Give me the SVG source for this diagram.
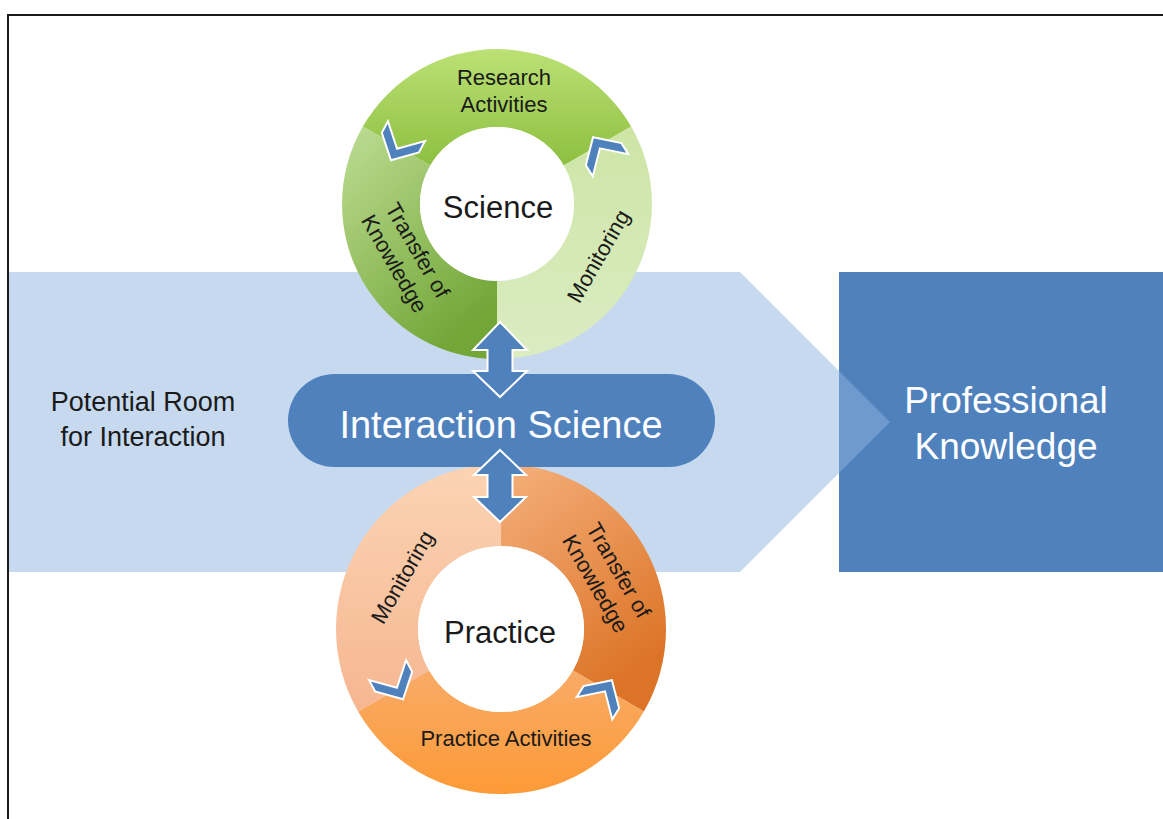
<svg xmlns="http://www.w3.org/2000/svg" xmlns:xlink="http://www.w3.org/1999/xlink" width="1163" height="819" viewBox="0 0 1163 819">
  <style>
    .lbl { font-family: "Liberation Sans", Arial, sans-serif; fill: #1a1a1a; }
    .wht { font-family: "Liberation Sans", Arial, sans-serif; fill: #ffffff; }
    .blue { fill: #4f81bd; stroke: #ffffff; stroke-width: 2; stroke-linejoin: miter; }
  </style>
  <defs>
    <linearGradient id="gSciTop" x1="0" y1="0" x2="0" y2="1">
      <stop offset="0" stop-color="#bce176"/>
      <stop offset="1" stop-color="#8dbf40"/>
    </linearGradient>
    <linearGradient id="gSciLeft" x1="0" y1="0" x2="0.6" y2="1">
      <stop offset="0" stop-color="#bedd94"/>
      <stop offset="1" stop-color="#72a637"/>
    </linearGradient>
    <linearGradient id="gSciRight" x1="0" y1="0" x2="0" y2="1">
      <stop offset="0" stop-color="#cde5a6"/>
      <stop offset="1" stop-color="#dbecc2"/>
    </linearGradient>
    <linearGradient id="gPraLeft" x1="0" y1="0" x2="0" y2="1">
      <stop offset="0" stop-color="#fbd4b4"/>
      <stop offset="1" stop-color="#f6b691"/>
    </linearGradient>
    <linearGradient id="gPraRight" x1="0" y1="0" x2="0.5" y2="1">
      <stop offset="0" stop-color="#f5b07c"/>
      <stop offset="1" stop-color="#dc7427"/>
    </linearGradient>
    <linearGradient id="gPraBot" x1="0" y1="0" x2="0" y2="1">
      <stop offset="0" stop-color="#f8ab67"/>
      <stop offset="1" stop-color="#fd9a36"/>
    </linearGradient>
    <path id="chev" d="M-18,-21 L-5,-21 L15,0 L-5,21 L-18,21 L2,0 Z"/>
  </defs>

  <rect width="1163" height="819" fill="#ffffff"/>
  <!-- frame -->
  <path d="M8,819 L8,15 L1163,15" fill="none" stroke="#1a1a1a" stroke-width="2"/>

  <g id="professional-knowledge">
    <rect x="839" y="272" width="324" height="300" fill="#4f81bd"/>
    <text class="wht" font-size="37" text-anchor="middle"><tspan x="1006" y="413">Professional</tspan><tspan x="1006" y="459">Knowledge</tspan></text>
  </g>

  <g id="potential-room">
    <polygon points="9,272 740,272 890,422 740,572 9,572" fill="#8db4dd" fill-opacity="0.5"/>
    <text class="lbl" font-size="27" text-anchor="middle"><tspan x="143" y="411">Potential Room</tspan><tspan x="143" y="446">for Interaction</tspan></text>
  </g>

  <g id="science">
    <path d="M362.8,126.5 A155,155 0 0 1 631.2,126.5 L563.7,165.5 A77,77 0 0 0 430.3,165.5 Z" fill="url(#gSciTop)"/>
    <path d="M631.2,126.5 A155,155 0 0 1 497,359 L497,281 A77,77 0 0 0 563.7,165.5 Z" fill="url(#gSciRight)"/>
    <path d="M497,359 A155,155 0 0 1 362.8,126.5 L430.3,165.5 A77,77 0 0 0 497,281 Z" fill="url(#gSciLeft)"/>
    <circle cx="497" cy="204" r="77" fill="#ffffff"/>
    <text class="lbl" font-size="22" text-anchor="middle"><tspan x="504" y="85">Research</tspan><tspan x="504" y="112">Activities</tspan></text>
    <text class="lbl" font-size="31" text-anchor="middle" x="498" y="218">Science</text>
    <g transform="translate(406,257) rotate(60)">
      <text class="lbl" font-size="22" text-anchor="middle"><tspan x="0" y="-6">Transfer of</tspan><tspan x="0" y="21">Knowledge</tspan></text>
    </g>
    <g transform="translate(598,256) rotate(-60)">
      <text class="lbl" font-size="22" text-anchor="middle" x="0" y="8">Monitoring</text>
    </g>
  </g>

  <g id="practice">
    <path d="M358.1,711.5 A165,165 0 0 1 501,464 L501,546 A83,83 0 0 0 429.1,670.5 Z" fill="url(#gPraLeft)"/>
    <path d="M501,464 A165,165 0 0 1 643.9,711.5 L572.9,670.5 A83,83 0 0 0 501,546 Z" fill="url(#gPraRight)"/>
    <path d="M643.9,711.5 A165,165 0 0 1 358.1,711.5 L429.1,670.5 A83,83 0 0 0 572.9,670.5 Z" fill="url(#gPraBot)"/>
    <circle cx="501" cy="629" r="83" fill="#ffffff"/>
    <text class="lbl" font-size="31" text-anchor="middle" x="500" y="643">Practice</text>
    <text class="lbl" font-size="22" text-anchor="middle" x="506" y="746">Practice Activities</text>
    <g transform="translate(402,577) rotate(-60)">
      <text class="lbl" font-size="22" text-anchor="middle" x="0" y="8">Monitoring</text>
    </g>
    <g transform="translate(607,577) rotate(60)">
      <text class="lbl" font-size="22" text-anchor="middle"><tspan x="0" y="-6">Transfer of</tspan><tspan x="0" y="21">Knowledge</tspan></text>
    </g>
  </g>

  <g id="interaction-science">
    <rect x="288" y="374" width="427" height="93" rx="46.5" fill="#4f81bd"/>
    <text class="wht" font-size="38" text-anchor="middle" x="501" y="438">Interaction Science</text>
  </g>

  <g id="connectors">
    <path class="blue" d="M500,322 L527,350 L512.5,350 L512.5,371 L527,371 L500,397 L473,371 L487.5,371 L487.5,350 L473,350 Z"/>
    <path class="blue" d="M500,450 L526,475 L512.5,475 L512.5,497 L526,497 L500,522 L474,497 L487.5,497 L487.5,475 L474,475 Z"/>
    <use xlink:href="#chev" class="blue" transform="translate(398,147) rotate(118)"/>
    <use xlink:href="#chev" class="blue" transform="translate(601,150) rotate(-122)"/>
    <use xlink:href="#chev" class="blue" transform="translate(396,686) rotate(62)"/>
    <use xlink:href="#chev" class="blue" transform="translate(604,693) rotate(-58)"/>
  </g>
</svg>
